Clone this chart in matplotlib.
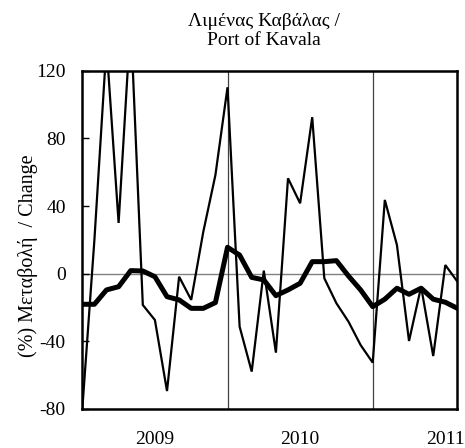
import matplotlib
matplotlib.use("Agg")
import matplotlib.pyplot as plt
import numpy as np

plt.rcParams['font.family'] = ['Liberation Serif', 'DejaVu Serif']

# Monthly change (%), Jan 2009 .. Aug 2011
monthly_change = [-80, 20, 135, 30, 150, -18.5, -27.4, -69.4, -1.8, -15.5, 24.8, 58.3,
                  110.2, -31.3, -57.9, 1.8, -46.7, 56.4, 41.6, 92.5, -2.7, -17.5, -28.4, -42.2,
                  -52.6, 43.6, 17.0, -39.8, -7.7, -48.7, 5.1, -4.7]
# Smoothed change (%)
smoothed_change = [-18.1, -18.1, -9.6, -7.7, 1.8, 1.6, -1.8, -13.6, -15.5, -20.5, -20.5, -17.1,
                   15.6, 11.0, -2.2, -3.7, -13.0, -9.6, -5.7, 7.1, 7.1, 7.7, -1.4, -9.6,
                   -19.5, -15.1, -8.6, -12.2, -8.6, -15.1, -16.9, -20.5]
year_labels = ['2009', '2010', '2011']
year_label_pos = [6, 18, 30]
year_breaks = [12, 24]
y_ticks = [-80, -40, 0, 40, 80, 120]

FS = 14

fig = plt.figure(figsize=(4.65, 4.48), dpi=100)
ax = fig.add_axes([0.177, 0.0871, 0.9837 - 0.177, 0.8422 - 0.0871])

x = np.arange(len(monthly_change))
ax.axhline(0, color='#808080', lw=1.0, zorder=1)
for b in year_breaks:
    ax.axvline(b, color='#404040', lw=0.9, zorder=1)

ax.plot(x, monthly_change, color='black', lw=1.6, solid_joinstyle='miter', zorder=3)
ax.plot(x, smoothed_change, color='black', lw=3.6, solid_joinstyle='round', zorder=4)

ax.set_xlim(0, len(monthly_change) - 1)
ax.set_ylim(-80, 120)
ax.set_yticks(y_ticks)
ax.set_yticklabels([str(v) for v in y_ticks], fontsize=FS)
ax.tick_params(axis='y', direction='in', length=5, width=1, pad=12)
ax.set_xticks(year_label_pos)
ax.set_xticklabels(year_labels, fontsize=FS)
ax.tick_params(axis='x', length=0, pad=16)

for s in ax.spines.values():
    s.set_linewidth(1.8)
    s.set_color('black')

fig.text(0.060, 0.429, '(%) Μεταβολή  / Change', fontsize=14.5, rotation=90,
         ha='center', va='center')
fig.text(0.567, 0.972, 'Λιμένας Καβάλας /\nPort of Kavala', fontsize=FS,
         ha='center', va='top', linespacing=1.2)

fig.savefig('out.png', dpi=100)
